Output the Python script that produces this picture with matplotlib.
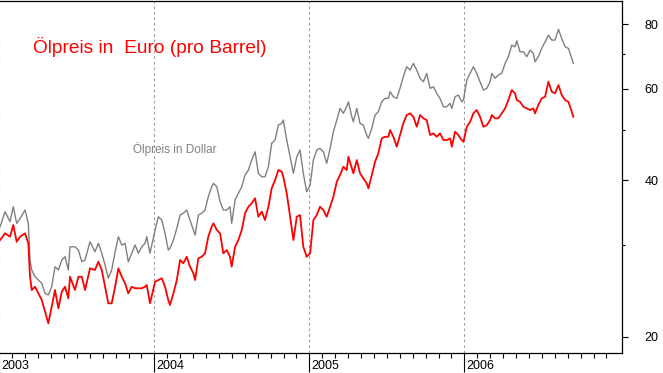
import matplotlib
matplotlib.use("Agg")
import matplotlib.pyplot as plt
from matplotlib.ticker import FixedLocator, FixedFormatter, NullFormatter
from matplotlib.transforms import ScaledTranslation

# decimal years of the sampled points
dates = [
    2003.005, 2003.037, 2003.069, 2003.090, 2003.112, 2003.134, 2003.166, 2003.187, 2003.198, 2003.209,
    2003.230, 2003.252, 2003.274, 2003.295, 2003.316, 2003.338, 2003.359, 2003.381, 2003.403, 2003.424,
    2003.445, 2003.456, 2003.488, 2003.510, 2003.532, 2003.553, 2003.585, 2003.617, 2003.639, 2003.661,
    2003.682, 2003.703, 2003.725, 2003.747, 2003.768, 2003.790, 2003.811, 2003.832, 2003.854, 2003.876,
    2003.897, 2003.919, 2003.940, 2003.951, 2003.972, 2004.005, 2004.026, 2004.048, 2004.069, 2004.090,
    2004.101, 2004.123, 2004.145, 2004.166, 2004.187, 2004.209, 2004.230, 2004.252, 2004.263, 2004.284,
    2004.306, 2004.327, 2004.348, 2004.370, 2004.381, 2004.403, 2004.424, 2004.445, 2004.467, 2004.488,
    2004.499, 2004.521, 2004.542, 2004.564, 2004.585, 2004.607, 2004.628, 2004.650, 2004.671, 2004.693,
    2004.714, 2004.736, 2004.757, 2004.779, 2004.800, 2004.822, 2004.832, 2004.854, 2004.876, 2004.897,
    2004.919, 2004.940, 2004.961, 2004.983, 2005.005, 2005.026, 2005.048, 2005.069, 2005.090, 2005.112,
    2005.134, 2005.155, 2005.177, 2005.198, 2005.219, 2005.241, 2005.252, 2005.274, 2005.284, 2005.306,
    2005.327, 2005.348, 2005.370, 2005.381, 2005.403, 2005.424, 2005.445, 2005.467, 2005.488, 2005.510,
    2005.521, 2005.542, 2005.564, 2005.585, 2005.606, 2005.628, 2005.650, 2005.671, 2005.693, 2005.714,
    2005.736, 2005.757, 2005.779, 2005.800, 2005.822, 2005.843, 2005.865, 2005.887, 2005.908, 2005.919,
    2005.940, 2005.961, 2005.983, 2005.994, 2006.016, 2006.037, 2006.058, 2006.080, 2006.101, 2006.123,
    2006.145, 2006.166, 2006.177, 2006.198, 2006.219, 2006.241, 2006.263, 2006.284, 2006.306, 2006.327,
    2006.338, 2006.359, 2006.381, 2006.403, 2006.424, 2006.445, 2006.456, 2006.477, 2006.499, 2006.521,
    2006.542, 2006.564, 2006.585, 2006.607, 2006.628, 2006.650, 2006.671, 2006.693, 2006.703,
]

# oil price in US dollar per barrel
usd = [
    32.57, 34.81, 33.30, 35.59, 33.06, 33.80, 35.07, 33.06, 28.10, 26.88,
    26.09, 25.71, 25.34, 24.24, 24.06, 24.96, 27.28, 26.88, 28.10, 28.51,
    26.88, 29.80, 29.80, 29.37, 27.89, 28.10, 30.47, 29.15, 30.26, 28.95,
    27.48, 25.91, 26.88, 29.15, 31.16, 30.03, 30.26, 27.89, 28.95, 30.03,
    28.95, 29.80, 30.26, 31.16, 28.95, 32.10, 34.04, 33.55, 31.63, 29.37,
    29.59, 30.70, 32.34, 34.30, 34.56, 35.07, 33.55, 32.10, 31.39, 34.30,
    34.56, 35.07, 37.20, 38.88, 39.48, 38.88, 36.38, 35.07, 35.07, 35.59,
    33.06, 36.66, 37.76, 38.88, 40.96, 41.87, 43.77, 45.41, 41.27, 40.65,
    40.65, 42.49, 47.14, 47.83, 51.12, 51.50, 52.26, 47.83, 44.42, 41.27,
    44.42, 45.76, 41.27, 38.03, 39.18, 43.77, 45.76, 46.10, 45.41, 43.14,
    46.10, 49.62, 52.26, 55.04, 53.84, 55.44, 56.68, 53.03, 51.87, 55.04,
    51.50, 51.12, 48.90, 48.19, 50.38, 53.43, 54.22, 56.68, 57.54, 57.54,
    59.25, 57.95, 57.54, 60.15, 63.32, 66.19, 65.23, 67.20, 65.23, 62.87,
    61.93, 64.28, 60.15, 60.58, 58.83, 57.54, 55.44, 55.44, 56.28, 55.04,
    57.95, 58.39, 56.68, 57.11, 62.40, 64.28, 66.19, 64.28, 61.93, 59.70,
    60.15, 61.93, 64.28, 62.87, 63.80, 64.28, 67.20, 69.19, 72.87, 72.33,
    74.28, 70.74, 70.74, 69.19, 71.27, 70.24, 67.68, 69.19, 71.81, 73.94,
    76.17, 74.51, 74.51, 78.12, 75.07, 72.33, 71.81, 68.70, 67.20,
]

# oil price in euro per barrel
eur = [
    30.70, 31.63, 31.16, 32.81, 30.47, 31.16, 31.63, 30.26, 26.09, 24.60,
    24.96, 24.24, 23.53, 22.34, 21.22, 22.84, 24.60, 22.68, 24.42, 24.96,
    23.71, 26.09, 24.60, 26.09, 26.09, 24.60, 27.08, 26.88, 27.89, 26.88,
    24.96, 23.19, 23.19, 24.96, 27.08, 26.09, 25.34, 24.24, 24.96, 24.79,
    24.79, 24.79, 24.96, 25.15, 23.19, 25.52, 25.71, 25.91, 24.96, 23.53,
    23.02, 24.24, 25.71, 28.10, 27.69, 28.51, 27.28, 26.49, 25.71, 28.31,
    28.51, 28.95, 31.16, 32.57, 33.06, 32.10, 31.63, 28.95, 29.37, 28.51,
    27.28, 29.80, 30.70, 32.10, 34.56, 35.59, 36.13, 36.94, 34.04, 34.81,
    33.55, 35.59, 38.61, 40.06, 41.87, 41.56, 40.65, 37.76, 34.04, 30.70,
    34.04, 34.30, 29.80, 28.51, 28.95, 33.55, 34.30, 35.59, 35.07, 34.04,
    35.59, 37.20, 39.76, 40.96, 42.49, 41.87, 44.42, 42.19, 41.27, 43.77,
    41.27, 40.36, 39.48, 38.61, 40.96, 43.44, 45.09, 48.19, 48.53, 48.53,
    50.00, 48.53, 46.43, 48.90, 51.50, 53.43, 53.84, 53.03, 50.73, 53.43,
    52.66, 52.26, 48.90, 49.27, 48.53, 49.27, 47.83, 47.83, 48.19, 46.43,
    49.62, 48.90, 47.83, 47.47, 50.73, 51.87, 53.84, 54.63, 53.03, 50.73,
    51.12, 52.26, 53.43, 52.66, 52.66, 53.84, 55.04, 57.11, 59.70, 58.83,
    57.11, 56.68, 55.44, 55.04, 54.63, 55.04, 53.84, 55.85, 57.54, 57.95,
    61.93, 59.25, 58.83, 61.03, 58.39, 57.11, 56.68, 54.22, 53.03,
]

years = [2003, 2004, 2005, 2006]
y_ticks = [20, 40, 60, 80]
y_minor = [30, 50, 70]

font = ["Liberation Sans", "DejaVu Sans"]

fig = plt.figure(figsize=(6.63, 3.73), dpi=100)
ax = fig.add_axes([-3 / 663, 19.7 / 373, 625 / 663, 352.8 / 373])

ax.set_yscale("log")
ax.set_xlim(2002.985, 2007.017)
ax.set_ylim(18.58, 88.8)

for yr in years:
    ax.axvline(yr, color="#a0a0a0", lw=0.8, ls=(0, (2.5, 2.5)), zorder=1)

ax.plot(dates, usd, color="#808080", lw=1.0, zorder=2)
ax.plot(dates, eur, color="#ff0000", lw=1.3, zorder=3)

# y axis on the right
ax.yaxis.tick_right()
ax.yaxis.set_major_locator(FixedLocator(y_ticks))
ax.yaxis.set_major_formatter(FixedFormatter([str(v) for v in y_ticks]))
ax.yaxis.set_minor_locator(FixedLocator(y_minor))
ax.yaxis.set_minor_formatter(NullFormatter())
ax.tick_params(axis="y", which="major", length=4.6, width=0.8, pad=11.5,
               labelsize=9, colors="black")
ax.tick_params(axis="y", which="minor", length=2.5, width=0.8)
for lab in ax.get_yticklabels():
    lab.set_family(font)

# x axis: long year ticks, monthly minor ticks
months = [yr + m / 12 for yr in years for m in range(1, 12)]
ax.xaxis.set_major_locator(FixedLocator(years))
ax.xaxis.set_minor_locator(FixedLocator(months))
ax.tick_params(axis="x", which="major", length=14, width=0.8, labelbottom=False)
ax.tick_params(axis="x", which="minor", length=3.6, width=0.8)
label_tr = ax.get_xaxis_transform() + ScaledTranslation(0.015, -0.065, fig.dpi_scale_trans)
for yr in years:
    ax.text(yr, 0, str(yr), transform=label_tr, ha="left", va="top",
            fontsize=9, family=font, clip_on=False)

for side in ["top", "right", "bottom", "left"]:
    ax.spines[side].set_linewidth(0.9)

fig.text(33 / 663, 1 - 52.7 / 373, "Ölpreis in  Euro (pro Barrel)", color="#ff0000",
         fontsize=13.8, family=font, va="baseline")
fig.text(133 / 663, 1 - 153.5 / 373, "Ölpreis in Dollar", color="#808080",
         fontsize=8.5, family=font, va="baseline")

fig.savefig("out.png", dpi=100)
